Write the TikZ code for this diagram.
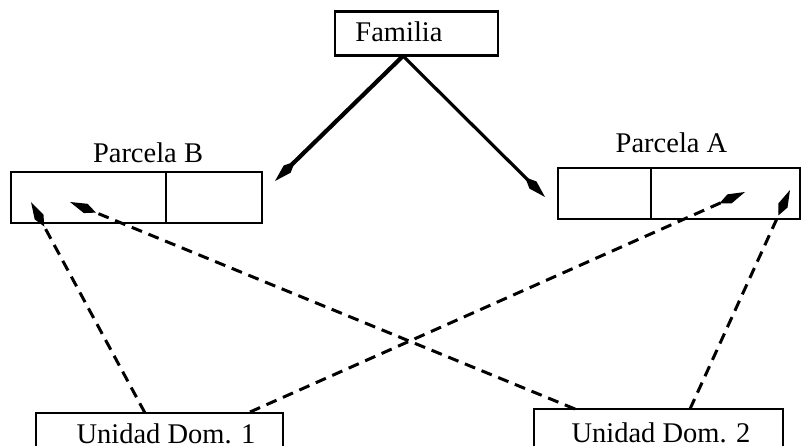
\documentclass[tikz,border=0pt]{standalone}
\usepackage{fontspec}
\setmainfont{Liberation Serif}
\usetikzlibrary{arrows.meta,calc}
\begin{document}
\begin{tikzpicture}[x=1pt,y=-1pt,
  box/.style={draw,line width=2.6pt,inner sep=0pt},
  lbl/.style={inner sep=0pt,anchor=base,font=\fontsize{28.5}{30}\selectfont},
  spindle/.style={-{Kite[length=28pt,width=10pt,inset=11pt]}},
  solidarrow/.style={spindle,line width=3.2pt},
  dasharrow/.style={spindle,line width=3pt,dash pattern=on 11pt off 7pt}]
\useasboundingbox (0,0) rectangle (802,446);
\clip (0,0) rectangle (802,446);
% Familia
\node[box,minimum width=163pt,minimum height=44pt] (fam) at (416.5,33.5) {};
\node[lbl] (famt) at (399,42) {Familia};
% Parcela B
\node[box,minimum width=251pt,minimum height=51pt] (pb) at (136.5,197.5) {};
\draw[line width=2.6pt] (166,172) -- (166,223);
\node[lbl] (pbt) at (148,163) {Parcela B};
% Parcela A
\node[box,minimum width=242pt,minimum height=51pt] (pa) at (679,193.5) {};
\draw[line width=2.6pt] (651,168) -- (651,219);
\node[lbl] (pat) at (671.5,153) {Parcela A};
% Unidad Dom. 1
\node[box,minimum width=247pt,minimum height=50pt] (u1) at (159.5,438) {};
\node[lbl] (u1t) at (166,443) {Unidad Dom. 1};
% Unidad Dom. 2
\node[box,minimum width=249pt,minimum height=50pt] (u2) at (658.5,434) {};
\node[lbl] (u2t) at (661,442) {Unidad Dom. 2};
% arrow points
\coordinate (fs) at (403,56);
\coordinate (tb) at (275,181);
\coordinate (ta) at (545,197);
\coordinate (b1) at (31,202);
\coordinate (b2) at (70,202);
\coordinate (a1) at (745,192);
\coordinate (a2) at (790,190);
\coordinate (u1a) at (145,413);
\coordinate (u1b) at (250,412);
\coordinate (u2a) at (575,409);
\coordinate (u2b) at (690,409);
\draw[solidarrow,line width=4.2pt] (fs) -- (tb);
\draw[solidarrow] (fs) -- (ta);
\draw[dasharrow] (u1a) -- (b1);
\draw[dasharrow] (u1b) -- (a1);
\draw[dasharrow] (u2a) -- (b2);
\draw[dasharrow] (u2b) -- (a2);
\end{tikzpicture}
\end{document}
